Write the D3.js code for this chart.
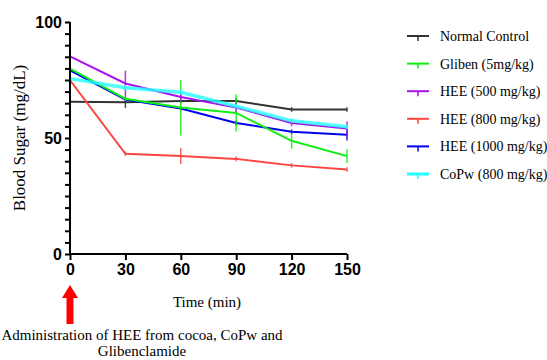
<!DOCTYPE html>
<html>
<head>
<meta charset="utf-8">
<script src="https://cdn.jsdelivr.net/npm/d3@7"></script>
<style>
  body { margin: 0; background: #fff; }
  svg { display: block; }
</style>
</head>
<body>
<svg id="chart" width="547" height="360"></svg>
<script>
// time points (min)
const times = [0, 30, 60, 90, 120, 150];
const xTicks = [0, 30, 60, 90, 120, 150];
const yMajor = [0, 50, 100];

// mean blood sugar values, one array per group
const normalControl = [65.6, 65.4, 65.9, 65.9, 62.3, 62.3];
const gliben = [79.9, 66.9, 63.1, 60.8, 48.8, 42.2];
const hee500 = [85.2, 73.5, 67.7, 63.1, 56.5, 54.1];
const hee800 = [74.9, 43.2, 42.2, 41.0, 38.2, 36.4];
const hee1000 = [79.2, 66.6, 62.7, 56.5, 52.7, 51.4];
const copw = [75.6, 71.7, 69.7, 63.7, 57.4, 54.8];

// error values
const normalErr = [3, 2.5, 1, 1.5, 1, 1];
const glibenErr = [6, 1, 12, 8, 3.5, 3];
const hee500Err = [14, 5.5, 2, 2, 1.5, 3];
const hee800Err = [12, 1, 3.4, 1, 1, 1];
const hee1000Err = [2, 1, 1, 1, 1, 2.5];
const copwErr = [1, 1, 1, 1, 1, 1];

const series = [
  { name: "Normal Control", values: normalControl, err: normalErr, color: "#333333", width: 2 },
  { name: "Gliben (5mg/kg)", values: gliben, err: glibenErr, color: "#11ee11", width: 2 },
  { name: "HEE (500 mg/kg)", values: hee500, err: hee500Err, color: "#aa11ee", width: 2 },
  { name: "HEE (800 mg/kg)", values: hee800, err: hee800Err, color: "#ff4444", width: 2 },
  { name: "HEE (1000 mg/kg)", values: hee1000, err: hee1000Err, color: "#0000ee", width: 2 },
  { name: "CoPw (800 mg/kg)", values: copw, err: copwErr, color: "#22ffff", width: 3.5 }
];
// draw order so overlaps look like the original
const drawOrder = [0, 4, 1, 2, 5, 3];

const svg = d3.select("#chart");

const x = d3.scaleLinear().domain([0, 150]).range([70, 347]);
const y = d3.scaleLinear().domain([0, 100]).range([254, 22]);

const line = d3.line()
  .x(function (d) { return x(d.t); })
  .y(function (d) { return y(d.v); });

// lines + error bars
const gLines = svg.append("g").attr("class", "lines");
drawOrder.forEach(function (i) {
  const s = series[i];
  const pts = times.map(function (t, k) { return { t: t, v: s.values[k], e: s.err[k] }; });
  const g = gLines.append("g");
  g.selectAll("line.err")
    .data(pts)
    .enter()
    .append("line")
    .attr("class", "err")
    .attr("x1", function (d) { return x(d.t); })
    .attr("x2", function (d) { return x(d.t); })
    .attr("y1", function (d) { return y(d.v - d.e); })
    .attr("y2", function (d) { return y(d.v + d.e); })
    .attr("stroke", s.color)
    .attr("stroke-width", 1.5)
    .attr("opacity", 0.85);
  g.append("path")
    .datum(pts)
    .attr("d", line)
    .attr("fill", "none")
    .attr("stroke", s.color)
    .attr("stroke-width", s.width)
    .attr("opacity", i === 5 ? 0.8 : 1);
});

// x axis
const xAxis = svg.append("g")
  .attr("transform", "translate(0," + y(0) + ")")
  .call(d3.axisBottom(x).tickValues(xTicks).tickSize(6).tickPadding(4).tickFormat(d3.format("d")));
xAxis.select(".domain").attr("stroke", "#000").attr("stroke-width", 2).attr("d", "M" + x(0) + ",0H" + x(150));
xAxis.selectAll(".tick line").attr("stroke", "#000").attr("stroke-width", 2);
xAxis.selectAll(".tick text")
  .attr("fill", "#000")
  .style("font-family", "'Liberation Sans', Arial, sans-serif")
  .style("font-weight", "bold")
  .style("font-size", "16px");

// y axis: minor ticks every 5, labels at 0/50/100
const yAxis = svg.append("g")
  .attr("transform", "translate(" + x(0) + ",0)")
  .call(d3.axisLeft(y).tickValues(d3.range(0, 101, 5)).tickSize(5).tickPadding(3)
    .tickFormat(function (d) { return yMajor.includes(d) ? d : ""; }));
yAxis.select(".domain").attr("stroke", "#000").attr("stroke-width", 2).attr("d", "M0," + y(0) + "V" + y(100));
yAxis.selectAll(".tick line").attr("stroke", "#000").attr("stroke-width", 2);
yAxis.selectAll(".tick text")
  .attr("fill", "#000")
  .style("font-family", "'Liberation Sans', Arial, sans-serif")
  .style("font-weight", "bold")
  .style("font-size", "16px");

const serif = "'Liberation Serif', 'Times New Roman', serif";

// axis titles
svg.append("text")
  .attr("transform", "translate(25," + y(50) + ") rotate(-90)")
  .attr("text-anchor", "middle")
  .style("font-family", serif)
  .style("font-weight", "normal")
  .style("font-size", "17px")
  .text("Blood Sugar (mg/dL)");

svg.append("text")
  .attr("x", 207)
  .attr("y", 307)
  .attr("text-anchor", "middle")
  .style("font-family", serif)
  .style("font-weight", "normal")
  .style("font-size", "15px")
  .text("Time (min)");

// red arrow at time 0
const ax = x(0);
svg.append("path")
  .attr("d", "M" + ax + ",285 L" + (ax + 8) + ",298 L" + (ax + 3.5) + ",298 L" + (ax + 3.5) + ",324 L" + (ax - 3.5) + ",324 L" + (ax - 3.5) + ",298 L" + (ax - 8) + ",298 Z")
  .attr("fill", "#ff0000");

const note = svg.append("text")
  .attr("text-anchor", "middle")
  .style("font-family", serif)
  .style("font-weight", "normal")
  .style("font-size", "15px");
note.append("tspan").attr("x", 142).attr("y", 340).text("Administration of HEE from cocoa, CoPw and");
note.append("tspan").attr("x", 142).attr("y", 356).text("Glibenclamide");

// legend
const legend = svg.append("g").attr("class", "legend")
  .selectAll("g")
  .data(series)
  .enter()
  .append("g")
  .attr("transform", function (d, i) { return "translate(407," + (36 + i * 27.6) + ")"; });
legend.append("line")
  .attr("x1", 0).attr("x2", 22).attr("y1", 0).attr("y2", 0)
  .attr("stroke", function (d) { return d.color; })
  .attr("stroke-width", function (d) { return Math.min(d.width, 3); });
legend.append("line")
  .attr("x1", 11).attr("x2", 11).attr("y1", 0).attr("y2", 5)
  .attr("stroke", function (d) { return d.color; })
  .attr("stroke-width", 1.5);
legend.append("text")
  .attr("x", 33)
  .attr("y", 5)
  .style("font-family", serif)
  .style("font-size", "14px")
  .text(function (d) { return d.name; });
</script>
</body>
</html>
